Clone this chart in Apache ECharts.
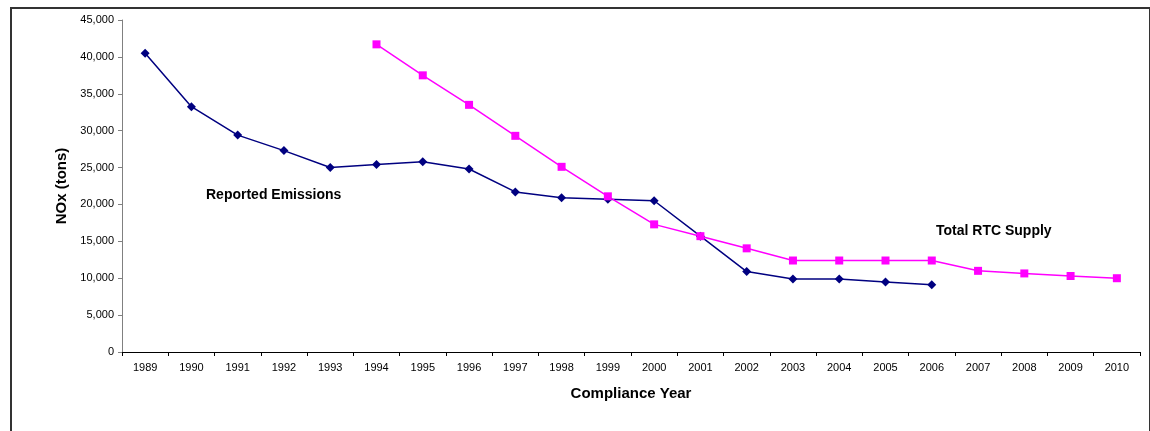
<!DOCTYPE html>
<html>
<head>
<meta charset="utf-8">
<script src="https://cdn.jsdelivr.net/npm/echarts@6/dist/echarts.min.js"></script>
<style>
  html, body { margin: 0; padding: 0; background: #fff; overflow: hidden; }
  #wrap { position: relative; width: 1150px; height: 431px; }
  #frame {
    position: absolute; left: 10px; top: 7px; width: 1137px; height: 440px;
    border: 2px solid #333; border-bottom: none; pointer-events: none;
  }
  #chart { position: absolute; left: 0; top: 0; width: 1150px; height: 431px; }
</style>
</head>
<body>
<div id="wrap">
  <div id="chart"></div>
  <div id="frame"></div>
</div>
<script>
  // compliance years
  const years = ['1989','1990','1991','1992','1993','1994','1995','1996','1997','1998','1999',
                 '2000','2001','2002','2003','2004','2005','2006','2007','2008','2009','2010'];
  // reported NOx emissions (tons), 1989-2006
  const reportedEmissions = [40500, 33250, 29400, 27300, 25000, 25400, 25800, 24800, 21700, 20900, 20700,
                             20500, 15700, 10900, 9900, 9900, 9500, 9100, null, null, null, null];
  // total RTC supply (tons), 1994-2010
  const rtcSupply = [null, null, null, null, null, 41700, 37500, 33500, 29300, 25100, 21100,
                     17300, 15700, 14050, 12400, 12400, 12400, 12400, 11000, 10650, 10300, 10000];

  let myChart = echarts.init(document.getElementById('chart'));
  myChart.setOption({
    animation: false,
    grid: {
      left: 122,
      right: 10,
      top: 20,
      bottom: 79
    },
    graphic: [
      {
        type: 'text', left: 206, top: 188,
        style: { text: 'Reported Emissions', font: 'bold 14px "Liberation Sans", Arial, sans-serif', fill: '#000' }
      },
      {
        type: 'text', left: 936, top: 224,
        style: { text: 'Total RTC Supply', font: 'bold 14px "Liberation Sans", Arial, sans-serif', fill: '#000' }
      }
    ],
    xAxis: {
      type: 'category',
      data: years,
      boundaryGap: true,
      name: 'Compliance Year',
      nameLocation: 'middle',
      nameGap: 34,
      nameTextStyle: {
        fontFamily: '"Liberation Sans", Arial, sans-serif',
        fontWeight: 'bold',
        fontSize: 15,
        color: '#000'
      },
      axisLine: { lineStyle: { color: '#000', width: 1 } },
      axisTick: { show: true, length: 4, lineStyle: { color: '#000' } },
      axisLabel: {
        color: '#000',
        fontSize: 11,
        fontFamily: '"Liberation Sans", Arial, sans-serif',
        margin: 10,
        interval: 0
      },
      splitLine: { show: false }
    },
    yAxis: {
      type: 'value',
      min: 0,
      max: 45000,
      interval: 5000,
      name: 'NOx (tons)',
      nameLocation: 'middle',
      nameGap: 52,
      nameTextStyle: {
        fontFamily: '"Liberation Sans", Arial, sans-serif',
        fontWeight: 'bold',
        fontSize: 15,
        color: '#000'
      },
      axisLine: { show: true, lineStyle: { color: '#808080', width: 1 } },
      axisTick: { show: true, length: 4, lineStyle: { color: '#808080' } },
      axisLabel: {
        color: '#000',
        fontSize: 11,
        fontFamily: '"Liberation Sans", Arial, sans-serif',
        margin: 8,
        formatter: v => v.toLocaleString('en-US')
      },
      splitLine: { show: false }
    },
    series: [
      {
        name: 'Reported Emissions',
        type: 'line',
        data: reportedEmissions,
        symbol: 'diamond',
        symbolSize: 9,
        itemStyle: { color: '#000080' },
        lineStyle: { color: '#000080', width: 1.5 },
        connectNulls: false
      },
      {
        name: 'Total RTC Supply',
        type: 'line',
        data: rtcSupply,
        symbol: 'rect',
        symbolSize: 8,
        itemStyle: { color: '#FF00FF' },
        lineStyle: { color: '#FF00FF', width: 1.5 },
        connectNulls: false
      }
    ]
  });

  window.addEventListener("resize", () => {
    myChart.resize();
  });
</script>
</body>
</html>
